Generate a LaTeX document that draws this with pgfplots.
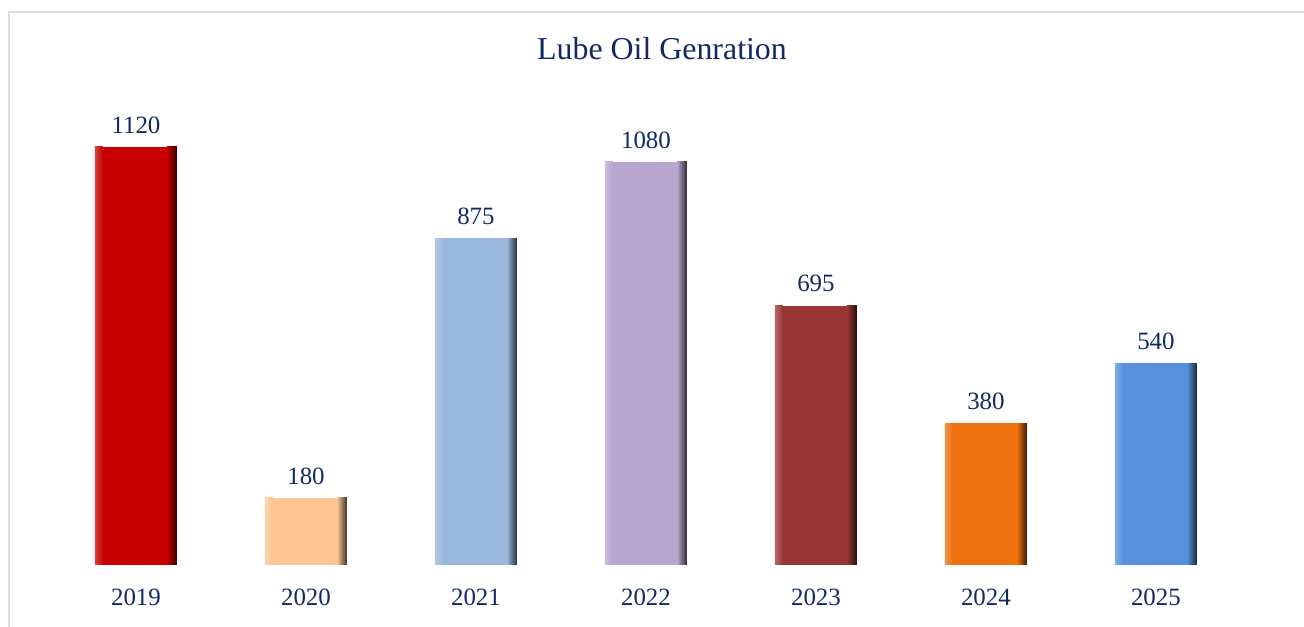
\documentclass[border=0pt]{standalone}
\usepackage{fontspec}
\setmainfont{Liberation Serif}
\usepackage{pgfplots}
\pgfplotsset{compat=1.18}

\definecolor{navy}{HTML}{112A66}
\definecolor{c19}{HTML}{C80000}
\definecolor{c20}{HTML}{FCC591}
\definecolor{c21}{HTML}{99B7DD}
\definecolor{c22}{HTML}{B8A6CE}
\definecolor{c23}{HTML}{983535}
\definecolor{c24}{HTML}{EE700E}
\definecolor{c25}{HTML}{5892DC}

% bar face, plus a dark strip at its right edge and a light one at its left
\pgfplotsset{
  face/.style={fill=#1, draw=none},
  redge/.style={draw=none, bar width=10bp, bar shift=36bp, left color=#1, right color=#1!25!black, nodes near coords={}},
  ledge/.style={draw=none, bar width=8bp, bar shift=-37bp, left color=#1!75!white, right color=#1, nodes near coords={}},
}

\begin{document}
\begin{tikzpicture}[x=1bp,y=1bp]
\useasboundingbox (0,0) rectangle (1304,627);
\draw[black!13, line width=2bp] (9,-5) -- (9,615) -- (1310,615);
\node[font=\fontsize{32}{35}\selectfont, text=navy] at (662,578) {Lube Oil Genration};
\begin{axis}[
    at={(8.5bp,62bp)}, anchor=south west,
    scale only axis,
    width=1275bp, height=485.2bp,
    xmin=-0.75, xmax=6.75,
    ymin=0, ymax=1300,
    ybar, bar width=82bp, bar shift=0pt,
    axis line style={draw=none},
    major tick length=0pt,
    ytick=\empty,
    xtick={0,1,2,3,4,5,6},
    xticklabels={2019,2020,2021,2022,2023,2024,2025},
    xticklabel style={font=\fontsize{25}{28}\selectfont, text=navy, yshift=-20bp},
    /pgf/number format/1000 sep={},
    /pgf/number format/assume math mode=true,
    every node near coord/.append style={font=\fontsize{25}{28}\selectfont, text=navy, yshift=10bp},
    clip=false,
]
\addplot[face=c19, nodes near coords] coordinates {(0,1120)};
\addplot[redge=c19] coordinates {(0,1120)};
\addplot[ledge=c19] coordinates {(0,1120)};
\addplot[face=c20, nodes near coords] coordinates {(1,180)};
\addplot[redge=c20] coordinates {(1,180)};
\addplot[ledge=c20] coordinates {(1,180)};
\addplot[face=c21, nodes near coords] coordinates {(2,875)};
\addplot[redge=c21] coordinates {(2,875)};
\addplot[ledge=c21] coordinates {(2,875)};
\addplot[face=c22, nodes near coords] coordinates {(3,1080)};
\addplot[redge=c22] coordinates {(3,1080)};
\addplot[ledge=c22] coordinates {(3,1080)};
\addplot[face=c23, nodes near coords] coordinates {(4,695)};
\addplot[redge=c23] coordinates {(4,695)};
\addplot[ledge=c23] coordinates {(4,695)};
\addplot[face=c24, nodes near coords] coordinates {(5,380)};
\addplot[redge=c24] coordinates {(5,380)};
\addplot[ledge=c24] coordinates {(5,380)};
\addplot[face=c25, nodes near coords] coordinates {(6,540)};
\addplot[redge=c25] coordinates {(6,540)};
\addplot[ledge=c25] coordinates {(6,540)};
\end{axis}
\end{tikzpicture}
\end{document}
